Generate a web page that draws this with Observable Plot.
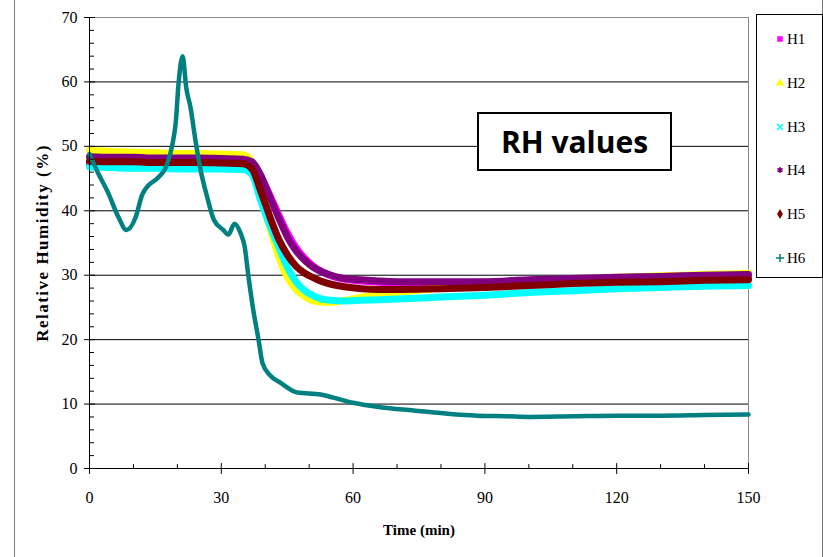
<!DOCTYPE html>
<html><head><meta charset="utf-8">
<script src="https://cdn.jsdelivr.net/npm/d3@7"></script>
<script src="https://cdn.jsdelivr.net/npm/@observablehq/plot@0.6"></script>
<style>
body{margin:0;background:#fff;}
#wrap{position:relative;width:823px;height:557px;overflow:hidden;background:#fff;}
#wrap > svg{position:absolute;left:0;top:0;}
#frame{position:absolute;left:14px;top:-2px;width:807px;height:562px;border-left:1px solid #7a7a7a;border-right:1px solid #7a7a7a;}
#rhbox{position:absolute;left:477px;top:112px;width:191px;height:55px;border:2px solid #000;background:#fff;
  font-family:"Open Sans",sans-serif;font-weight:700;font-size:30px;line-height:55px;text-align:center;color:#000;}
#legend{position:absolute;left:756px;top:14px;width:65px;height:262px;border:1px solid #000;background:#fff;
  font-family:"Liberation Serif",serif;font-size:15px;color:#000;}
#legend .item{position:absolute;left:0;height:20px;line-height:20px;}
#legend .item svg{position:absolute;left:17px;top:4px;}
#legend .item span{position:absolute;left:30px;top:0;}
g[aria-label="y-axis label"] text{font-weight:bold;font-size:17px;letter-spacing:1.5px;}
g[aria-label="x-axis label"] text{font-weight:bold;font-size:15px;}
</style></head>
<body><div id="wrap"><div id="frame"></div></div>
<script>
const seriesNames = ["H1","H2","H3","H4","H5","H6"];
const seriesColors = ["#ff00ff","#ffff00","#00ffff","#800080","#800000","#008080"];
const seriesSymbols = ["square","triangle","times","asterisk","diamond","plus"];

const timeMain = [0,5,10,15,20,25,30,35,37,39,41,43,45,47,49,51,53,55,58,62,66,70,80,90,100,110,120,130,140,150];
const h1 = [47.2,47.1,47.1,47.0,47.0,47.0,46.9,46.9,46.6,45.2,42.5,39.5,36.6,34.3,32.6,31.4,30.5,29.9,29.4,29.1,28.9,28.8,28.8,28.9,29.1,29.3,29.4,29.5,29.6,29.7];
const h2 = [49.4,49.2,49.1,49.0,48.9,48.9,48.8,48.7,47.5,42.0,37.5,33.0,29.7,27.8,26.7,26.0,25.8,25.8,26.1,26.6,26.9,27.3,28.0,28.6,29.0,29.4,29.7,29.9,30.1,30.3];
const h3 = [46.8,46.7,46.6,46.6,46.5,46.5,46.5,46.4,45.6,41.5,37.8,34.5,31.3,29.0,27.6,26.8,26.3,26.1,26.0,26.1,26.2,26.3,26.6,26.9,27.3,27.6,27.9,28.1,28.3,28.4];
const h4 = [48.4,48.3,48.3,48.2,48.2,48.2,48.1,48.0,47.6,45.5,42.2,39.0,36.0,33.8,32.3,31.2,30.5,30.0,29.5,29.3,29.1,29.0,29.0,29.0,29.3,29.5,29.7,29.8,30.0,30.1];
const h5 = [47.7,47.6,47.6,47.5,47.5,47.5,47.4,47.3,46.5,43.0,39.2,35.7,33.2,31.4,30.3,29.6,29.0,28.6,28.2,27.9,27.8,27.8,27.9,28.1,28.4,28.7,28.9,29.0,29.2,29.3];

const timeH6 = [0,2,4.3,6.6,8.4,10.5,12,13.5,15.4,17.7,18.9,19.6,20.3,21.2,22,23,24.1,25.3,26.8,28.3,30.5,31.6,33,34.4,35.3,36.2,37.3,38.5,39.4,41.2,43.5,47.3,52.6,55.5,60,66.2,73.8,81.5,88.3,95,100,110,120,130,140,150];
const h6 = [48.8,45.8,42.7,39.0,37.0,39.0,42.5,44.0,45.0,47.3,50.4,53.5,60.0,64.0,59.2,56.0,51.0,46.3,42.1,38.6,37.0,36.3,38.0,36.5,34.5,29.7,24.5,19.9,16.3,14.4,13.3,11.8,11.5,11.0,10.2,9.5,9.0,8.5,8.2,8.1,8.0,8.1,8.2,8.2,8.3,8.4];

const yTicks = [0,10,20,30,40,50,60,70];
const yGrid = [10,20,30,40,50,60];
const yMinorTicks = [2,4,6,8,12,14,16,18,22,24,26,28,32,34,36,38,42,44,46,48,52,54,56,58,62,64,66,68];
const xTicks = [0,30,60,90,120,150];
const xMinorTicks = [10,20,40,50,70,80,100,110,130,140];
const titleText = "RH values";
const xLabel = "Time (min)";
const yLabel = "Relative Humidity (%)";

const seriesValues = [h1,h2,h3,h4,h5,h6];
const seriesTimes = [timeMain,timeMain,timeMain,timeMain,timeMain,timeH6];
const seriesRows = seriesNames.map((name,i)=>seriesTimes[i].map((t,j)=>({series:name,t,v:seriesValues[i][j]})));

const lineShape = {draw(context, l){ context.moveTo(0,0); context.lineTo(0,-l); }};

const marks = [
  Plot.ruleY(yGrid, {stroke:"#000", strokeWidth:1}),
  Plot.ruleY([70], {stroke:"#8a8a8a", strokeWidth:1}),
  Plot.ruleX([150], {stroke:"#8a8a8a", strokeWidth:1}),
];
seriesRows.forEach((rows,i)=>{
  marks.push(Plot.line(rows, {x:"t", y:"v", stroke:seriesColors[i], strokeWidth: i===5 ? 4.5 : 7, curve:"monotone-x"}));
});
marks.push(
  Plot.ruleX([0], {stroke:"#000"}),
  Plot.ruleY([0], {stroke:"#000"}),
  Plot.vector(yMinorTicks, {x:()=>0, y:d=>d, length:4, rotate:90, anchor:"start", shape:lineShape, stroke:"#000", strokeWidth:1}),
  Plot.vector(yTicks, {x:()=>0, y:d=>d, length:10, rotate:90, anchor:"middle", shape:lineShape, stroke:"#000", strokeWidth:1}),
  Plot.vector(xMinorTicks, {x:d=>d, y:()=>0, length:4, rotate:0, anchor:"start", shape:lineShape, stroke:"#000", strokeWidth:1}),
  Plot.vector(xTicks, {x:d=>d, y:()=>0, length:10, rotate:0, anchor:"middle", shape:lineShape, stroke:"#000", strokeWidth:1}),
  Plot.axisY({ticks:yTicks, tickSize:0, tickPadding:12, label:yLabel, labelAnchor:"center", labelOffset:54, labelArrow:"none"}),
  Plot.axisX({ticks:xTicks, tickSize:0, tickPadding:23, label:xLabel, labelAnchor:"center", labelOffset:66, labelArrow:"none"})
);

const chart = Plot.plot({
  width:823, height:557,
  marginLeft:89, marginRight:75, marginTop:17, marginBottom:89,
  x:{domain:[0,150]},
  y:{domain:[0,70]},
  style:{fontFamily:"'Liberation Serif', serif", fontSize:"16px", color:"#000", background:"transparent", overflow:"visible"},
  marks
});
const wrap = document.getElementById("wrap");
wrap.appendChild(chart);

const box = document.createElement("div");
box.id = "rhbox"; box.textContent = titleText;
wrap.appendChild(box);

const legend = d3.select(wrap).append("div").attr("id","legend");
const symbolMap = {square:d3.symbolSquare, triangle:d3.symbolTriangle, times:d3.symbolTimes, asterisk:d3.symbolAsterisk, diamond:d3.symbolDiamond, plus:d3.symbolPlus};
const strokeSyms = new Set(["times","asterisk","plus"]);
seriesNames.forEach((name,i)=>{
  const item = legend.append("div").attr("class","item").style("top",(14 + i*43.8)+"px").style("width","65px");
  const s = item.append("svg").attr("width",12).attr("height",12);
  const sym = seriesSymbols[i];
  s.append("path").attr("transform","translate(6,6)")
    .attr("d", d3.symbol(symbolMap[sym], strokeSyms.has(sym) ? 24 : 30)())
    .attr("fill", strokeSyms.has(sym) ? "none" : seriesColors[i])
    .attr("stroke", strokeSyms.has(sym) ? seriesColors[i] : "none")
    .attr("stroke-width", 1.5);
  item.append("span").text(name);
});
</script>
</body></html>
